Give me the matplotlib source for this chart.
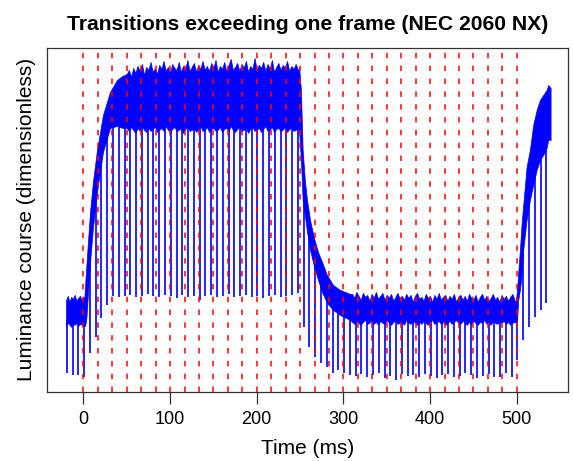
import numpy as np
import matplotlib
matplotlib.use('Agg')
import matplotlib.pyplot as plt

plt.rcParams['font.family'] = ['Liberation Sans', 'DejaVu Sans']

# frame boundaries (ms) - 60 Hz refresh
frame_t = [0, 16.7, 33.3, 50, 66.7, 83.3, 100, 116.7, 133.3, 150, 166.7, 183.3,
           200, 216.7, 233.3, 250, 266.7, 283.3, 300, 316.7, 333.3, 350, 366.7,
           383.3, 400, 416.7, 433.3, 450, 466.7, 483.3, 500]

# envelope of the dense (noisy) part of the luminance trace
band_t = [-20, -18, -16, -14, -12, -10, -8, -6, -4, -2, 0, 1,
          # rise
          2.0, 3.5, 5.4, 7.7, 11.0, 15.7, 22.6, 30.7, 38.8, 45,
          # high plateau
          50, 52.5, 55, 57.5, 60, 62.5, 65, 67.5, 70, 72.5,
          75, 77.5, 80, 82.5, 85, 87.5, 90, 92.5, 95, 97.5,
          100, 102.5, 105, 107.5, 110, 112.5, 115, 117.5, 120, 122.5,
          125, 127.5, 130, 132.5, 135, 137.5, 140, 142.5, 145, 147.5,
          150, 152.5, 155, 157.5, 160, 162.5, 165, 167.5, 170, 172.5,
          175, 177.5, 180, 182.5, 185, 187.5, 190, 192.5, 195, 197.5,
          200, 202.5, 205, 207.5, 210, 212.5, 215, 217.5, 220, 222.5,
          225, 227.5, 230, 232.5, 235, 237.5, 240, 242.5, 245, 247.5,
          249,
          # fall
          251, 253, 255.5, 258, 261.5, 266, 270.7, 275.3, 281, 288, 296, 307.6,
          # low plateau
          310, 312.5, 315, 317.5, 320, 322.5, 325, 327.5, 330, 332.5,
          335, 337.5, 340, 342.5, 345, 347.5, 350, 352.5, 355, 357.5,
          360, 362.5, 365, 367.5, 370, 372.5, 375, 377.5, 380, 382.5,
          385, 387.5, 390, 392.5, 395, 397.5, 400, 402.5, 405, 407.5,
          410, 412.5, 415, 417.5, 420, 422.5, 425, 427.5, 430, 432.5,
          435, 437.5, 440, 442.5, 445, 447.5, 450, 452.5, 455, 457.5,
          460, 462.5, 465, 467.5, 470, 472.5, 475, 477.5, 480, 482.5,
          485, 487.5, 490, 492.5, 495, 497.5, 499,
          # rise
          500.8, 501.7, 503.7, 505.7, 507.5, 511.4, 515.2, 519, 523, 526.8,
          530.6, 534.5, 536.4, 539.1]
band_hi = [80, 84, 78, 83, 81, 85, 79, 82, 84, 80, 83, 81,
           95, 115, 140, 168, 198, 230, 265, 288, 300, 304,
           306, 310, 303, 312, 307, 314, 309, 316, 305, 313,
           310, 318, 308, 312, 306, 315, 311, 319, 309, 313,
           307, 316, 312, 310, 318, 308, 314, 311, 320, 309,
           313, 317, 308, 315, 311, 319, 310, 314, 309, 317,
           312, 320, 308, 314, 311, 318, 309, 315, 321, 310,
           313, 317, 309, 316, 312, 319, 308, 314, 311, 322,
           310, 315, 312, 318, 309, 316, 311, 320, 308, 313,
           317, 310, 315, 312, 319, 309, 314, 311, 316, 310,
           312,
           290, 230, 200, 180, 160, 142, 128, 118, 105, 95, 90, 86,
           86, 82, 88, 84, 80, 87, 83, 85, 79, 86,
           82, 88, 81, 84, 87, 80, 85, 82, 86, 79,
           83, 87, 81, 84, 80, 86, 82, 85, 78, 84,
           87, 81, 83, 79, 86, 82, 84, 78, 85, 81,
           87, 80, 83, 85, 79, 84, 81, 86, 78, 83,
           85, 80, 84, 79, 86, 82, 80, 85, 78, 83,
           86, 80, 84, 79, 82, 86, 80, 83, 78, 85,
           81, 84, 79, 83, 86, 80, 77,
           95, 107, 130, 157, 175, 213, 230, 255, 270, 280,
           285, 290, 295, 292]
band_lo = [54, 57, 55, 53, 56, 55, 57, 54, 56, 55, 54, 54,
           54, 62, 88, 118, 152, 188, 228, 252, 254, 252,
           252, 249, 253, 250, 247, 252, 249, 254, 250, 248,
           252, 249, 251, 253, 248, 250, 252, 249, 254, 250,
           248, 251, 253, 249, 250, 252, 247, 251, 253, 249,
           250, 252, 248, 251, 254, 249, 250, 253, 248, 251,
           252, 249, 250, 253, 248, 251, 252, 249, 254, 250,
           248, 251, 253, 249, 250, 252, 247, 251, 253, 249,
           250, 252, 248, 251, 254, 249, 250, 253, 248, 251,
           252, 249, 250, 253, 248, 251, 252, 249, 250, 252,
           248,
           220, 180, 165, 148, 130, 114, 100, 88, 77, 70, 65, 60,
           58, 56, 59, 57, 55, 58, 60, 56, 57, 59,
           56, 58, 55, 59, 57, 56, 60, 57, 55, 58,
           59, 56, 57, 58, 55, 60, 57, 56, 59, 57,
           55, 58, 56, 59, 57, 55, 58, 60, 56, 57,
           59, 56, 58, 55, 57, 59, 56, 58, 60, 57,
           56, 59, 57, 55, 58, 56, 59, 57, 55, 58,
           57, 60, 56, 58, 55, 59, 57, 56, 58, 57,
           59, 56, 58, 55, 57, 58, 57,
           65, 80, 90, 105, 130, 160, 180, 195, 210, 220,
           225, 232, 240, 240]

# periodic backlight dips: time, bottom, attach level
dip_t = [-19.1, -12.4, -5.8, 0.9, 7.6, 14.2, 20.9, 27.6, 34.2, 40.9,
         47.6, 54.2, 60.9, 67.6, 74.2, 80.9, 87.6, 94.2, 100.9, 107.6,
         114.2, 120.9, 127.6, 134.2, 140.9, 147.6, 154.2, 160.9, 167.6, 174.2,
         180.9, 187.6, 194.2, 200.9, 207.6, 214.2, 220.9, 227.6, 234.2, 240.9,
         247.6, 254.2, 260.9, 267.6, 274.2, 280.9, 287.6, 294.2, 300.9, 307.6,
         314.2, 320.9, 327.6, 334.2, 340.9, 347.6, 354.2, 360.9, 367.6, 374.2,
         380.9, 387.6, 394.2, 400.9, 407.6, 414.2, 420.9, 427.6, 434.2, 440.9,
         447.6, 454.2, 460.9, 467.6, 474.2, 480.9, 487.6, 494.2, 500.9, 507.6,
         514.2, 520.9, 527.6, 534.2]
dip_lo = [7, 5, 5, 3, 27, 43, 62, 75, 84, 83,
          84, 85, 83, 84, 86, 84, 83, 85, 84, 82,
          85, 83, 84, 80, 84, 85, 83, 84, 86, 83,
          84, 85, 83, 84, 82, 84, 85, 83, 84, 85,
          87, 53, 33, 23, 17, 13, 7, 10, 7, 5,
          4, 6, 3, 5, 7, 2, 4, 0, 6, 4,
          5, 3, 6, 4, 2, 5, 6, 3, 4, 7,
          5, 2, 4, 6, 3, 3, 7, 3, 20, 40,
          53, 63, 70, 77]
dip_hi = [60, 60, 60, 60, 143, 200, 240, 270, 275, 270,
          270, 270, 270, 270, 270, 270, 270, 270, 270, 270,
          270, 270, 270, 270, 270, 270, 270, 270, 270, 270,
          270, 270, 270, 270, 270, 270, 270, 270, 270, 270,
          270, 190, 148, 125, 105, 90, 82, 76, 72, 70,
          70, 70, 70, 70, 70, 70, 70, 70, 70, 70,
          70, 70, 70, 70, 70, 70, 70, 70, 70, 70,
          70, 70, 70, 70, 70, 70, 70, 70, 80, 150,
          200, 230, 250, 260]

fig = plt.figure(figsize=(5.73, 4.61), dpi=100)
ax = fig.add_axes([0.082, 0.150, 0.909, 0.746])

ax.vlines(dip_t, dip_lo, dip_hi, color='#0000ff', lw=1.2, zorder=1)
ax.fill_between(band_t, band_lo, band_hi, facecolor='#0000ff',
                edgecolor='#0000ff', lw=0.5, zorder=2)
for t in frame_t:
    ax.axvline(t, color='#ff0000', lw=1.1, linestyle=(0, (3.6, 4.8)), zorder=5)

ax.set_xlim(-42, 559)
ax.set_ylim(-12, 332)
ax.set_yticks([])
ax.set_xticks([0, 100, 200, 300, 400, 500])
ax.tick_params(axis='x', length=8.5, width=0.9, labelsize=13, pad=5, color='#333333')
for s in ax.spines.values():
    s.set_linewidth(0.9)
    s.set_color('#333333')

ax.set_xlabel('Time (ms)', fontsize=15, labelpad=8)
ax.set_ylabel('Luminance course (dimensionless)', fontsize=15, labelpad=8)
ax.set_title('Transitions exceeding one frame (NEC 2060 NX)', fontsize=15.2,
             fontweight='bold', pad=13)

fig.savefig('out.png', dpi=100)
